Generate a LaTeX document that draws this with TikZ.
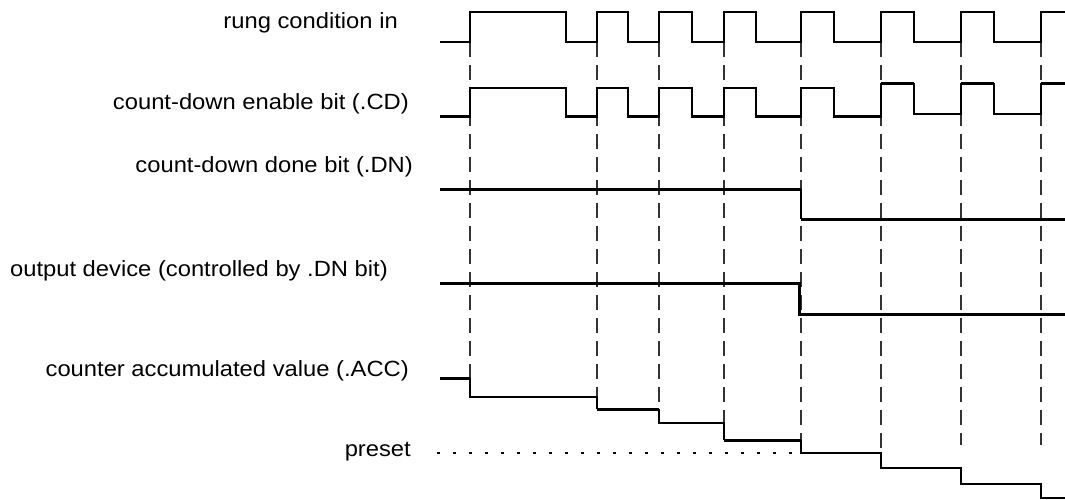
\documentclass[tikz,border=0pt]{standalone}
\usepackage{fontspec}
\setmainfont[FakeStretch=1.08]{Liberation Sans}
\begin{document}
\begin{tikzpicture}[x=1pt,y=-1pt,
  lbl/.style={anchor=base east,inner sep=0pt,font=\fontsize{22}{26}\selectfont},
  sig/.style={line width=1.4pt,line join=miter},
  bold/.style={line width=3pt},
  guide/.style={line width=1.8pt,draw=black!80,dash pattern=on 15pt off 8pt},
  presetline/.style={line width=1.4pt,dash pattern=on 2.5pt off 13.5pt}]
\useasboundingbox (0,0) rectangle (1065,500);
% labels
\node[lbl] (lrung) at (398,28.5) {rung condition in};
\node[lbl] (lcd) at (409,110) {count-down enable bit (.CD)};
\node[lbl] (ldn) at (413,172) {count-down done bit (.DN)};
\node[lbl] (lout) at (388,276) {output device (controlled by .DN bit)};
\node[lbl] (lacc) at (409,376) {counter accumulated value (.ACC)};
\node[lbl] (lpre) at (411,456.5) {preset};
% dashed guides
\foreach \x/\e in {470/378,597/397,659/409,724/423,801/440,881/453,961/445,1041/445}
  \draw[guide] (\x,42) -- (\x,\e);
% preset dotted
\draw[presetline] (437,453) -- (801,453);
% rung condition
\draw[sig] (440,42) -- (470,42) -- (470,12) -- (566,12) -- (566,42) -- (597,42) -- (597,12)
  -- (628,12) -- (628,42) -- (659,42) -- (659,12) -- (692,12) -- (692,42) -- (724,42)
  -- (724,12) -- (756,12) -- (756,42) -- (801,42) -- (801,12) -- (834,12) -- (834,42)
  -- (881,42) -- (881,12) -- (914,12) -- (914,42) -- (961,42) -- (961,12) -- (994,12)
  -- (994,42) -- (1041,42) -- (1041,12) -- (1065,12);
% count-down enable
\draw[sig] (440,117) -- (470,117) -- (470,88) -- (566,88) -- (566,117) -- (597,117) -- (597,88)
  -- (628,88) -- (628,117) -- (659,117) -- (659,88) -- (692,88) -- (692,117) -- (724,117)
  -- (724,88) -- (756,88) -- (756,117) -- (801,117) -- (801,88) -- (834,88) -- (834,117)
  -- (881,117) -- (881,84) -- (914,84) -- (914,114) -- (961,114) -- (961,84) -- (994,84)
  -- (994,114) -- (1041,114) -- (1041,84) -- (1065,84);
\foreach \a/\b/\y in {440/470/117,566/597/117,628/659/117,692/724/117,756/801/117,834/881/117,881/914/84,961/994/84,1041/1065/84}
  \draw[bold] (\a,\y) -- (\b,\y);
% done bit
\draw[bold] (440,189) -- (801,189);
\draw[sig] (801,189) -- (801,219);
\draw[bold] (801,219) -- (1065,219);
% output device
\draw[bold] (440,283) -- (799,283) -- (799,314) -- (1065,314);
% accumulated value
\draw[bold] (440,378) -- (470,378);
\draw[sig] (470,378) -- (470,397) -- (597,397) -- (597,409);
\draw[bold] (597,409) -- (659,409);
\draw[sig] (659,409) -- (659,423) -- (724,423) -- (724,440);
\draw[bold] (724,440) -- (801,440);
\draw[sig] (801,440) -- (801,453) -- (881,453) -- (881,468) -- (961,468) -- (961,484)
  -- (1041,484) -- (1041,498) -- (1065,498);
\end{tikzpicture}
\end{document}
